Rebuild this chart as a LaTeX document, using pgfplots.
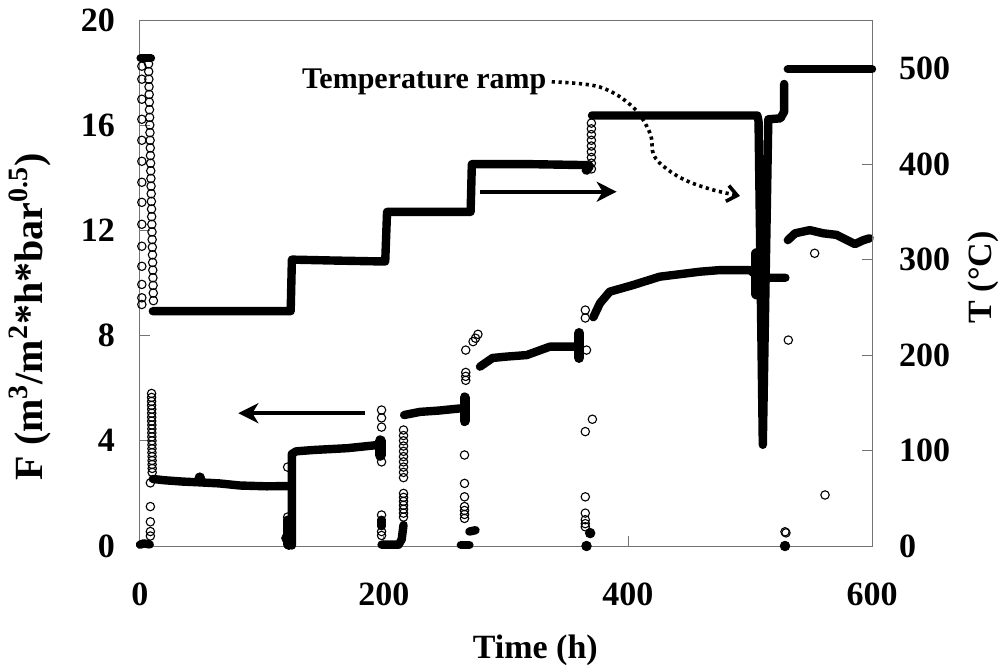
\documentclass[border=0pt]{standalone}
\usepackage{pgfplots}
\pgfplotsset{compat=1.18}
\usepackage{fontspec}
\setmainfont{Liberation Serif}
\usetikzlibrary{arrows.meta}
\begin{document}
\begin{tikzpicture}[font=\bfseries]
\pgfplotsset{
 every axis/.append style={
   scale only axis, width=366pt, height=263pt,
   xmin=0, xmax=600, clip=false,
   axis line style={black!55, line width=0.5pt},
   major tick style={black!55, line width=0.5pt},
   major tick length=5pt, tick align=inside,
   tick label style={font=\fontsize{17}{20}\selectfont\bfseries},
   /pgf/number format/assume math mode=true,
 },
 thk/.style={black, line width=4.2pt, line cap=round, line join=round, mark=none},
 circ/.style={only marks, mark=o, mark size=2.1pt, mark options={black, line width=0.55pt}},
 blob/.style={only marks, mark=*, mark size=2.4pt, mark options={black}},
}
% ---------------- left axis: F ----------------
\begin{axis}[
 ymin=0, ymax=20, ytick={0,4,...,20}, xtick={0,200,400,600},
 xtick pos=bottom, ytick pos=left,
 xticklabel style={yshift=-15pt},
 yticklabel style={xshift=-9pt},
 xlabel={Time (h)},
 xlabel style={at={(axis description cs:0.54,-0.198)}, anchor=center, font=\fontsize{17}{20}\selectfont\bfseries},
 ylabel={F (m\textsuperscript{3}/m\textsuperscript{2}*h*bar\textsuperscript{0.5})},
 ylabel style={at={(axis description cs:-0.150,0.436)}, anchor=center, font=\fontsize{20}{24}\selectfont\bfseries},
]
\coordinate (SW) at (rel axis cs:0,0);
\coordinate (NE) at (rel axis cs:1,1);
% thick (dense) parts of flux
\addplot[thk] coordinates {(0,0.05)(3,0.1)(8,0.06)};
\addplot[thk] coordinates {(10.5,2.55)(20,2.5)(35,2.45)(49,2.42)(65,2.38)(82,2.3)(104,2.27)(122,2.28)};
\addplot[thk] coordinates {(121,0.05)(121,1.0)};
\addplot[thk] coordinates {(124.5,0.02)(124.5,3.5)(128,3.6)(142,3.65)(170,3.72)(197,3.85)};
\addplot[thk, line width=5.5pt] coordinates {(197,3.45)(197,4.0)};
\addplot[thk] coordinates {(198,0.05)(212,0.05)(214.5,0.25)(216,0.8)};
\addplot[thk] coordinates {(216.5,4.98)(229.5,5.1)(245,5.15)(262,5.23)};
\addplot[thk, line width=5pt] coordinates {(266,4.75)(266,5.65)};
\addplot[thk] coordinates {(198,0.75)(198,1.0)};
\addplot[thk] coordinates {(263,0.04)(270,0.04)};
\addplot[thk] coordinates {(270,0.55)(275,0.6)};
\addplot[thk] coordinates {(278.7,6.82)(289,7.15)(300,7.2)(317,7.26)(336,7.58)(359,7.58)};
\addplot[thk, line width=5pt] coordinates {(360,7.15)(360,8.1)};
\addplot[thk] coordinates {(371.6,8.7)(377,9.23)(385,9.67)(404,9.92)(426,10.24)(459,10.43)(475,10.49)(500,10.49)(505,10.3)(512,10.2)(529,10.2)};
\addplot[thk, line width=6pt] coordinates {(505.5,9.6)(505.5,11.1)};
\addplot[thk] coordinates {(531,11.63)(537,11.89)(549,12.01)(560,11.89)(571,11.83)(579.5,11.63)(586,11.48)(593,11.63)(598,11.7)};
% scattered flux points (open circles)
\addplot[circ] coordinates {
 (9.5,5.8)(9.5,5.65)(9.5,5.5)(9.5,5.35)(9.6,5.2)(9.6,5.05)(9.6,4.9)(9.6,4.75)(9.7,4.6)(9.7,4.45)(9.7,4.3)
 (9.7,4.15)(9.8,4.0)(9.8,3.85)(9.8,3.7)(9.8,3.55)(9.9,3.4)(9.9,3.25)(9.9,3.1)(10,2.95)(10,2.8)
 (8.5,2.4)(8.5,1.5)(8.5,0.92)(8.5,0.55)(8.5,0.38)
 (121,3.0)(121,1.1)
 (198,5.17)(198,4.87)(198,4.52)(198,3.2)(198,1.18)(198,0.55)(198,0.4)
 (216,4.41)(216,4.2)(216,4.0)(216,3.8)(216,3.6)(216,3.4)(216,3.2)(216,3.0)(216,2.8)(216,2.6)
 (216,2.0)(216,1.85)(216,1.7)(216,1.55)(216,1.4)(216,1.25)(216,1.1)
 (267,7.45)(267,6.6)(267,6.45)(267,6.3)(273,7.77)(275,7.9)(277,8.05)
 (266,3.46)(266,2.38)(266,1.87)(266,1.5)(266,1.35)(266,1.2)(266,1.05)
 (365,8.97)(365,8.67)(366,7.45)(365,4.35)(370.8,4.82)(365,1.87)(365,1.25)(365,1.0)(365,0.85)(365,0.73)
 (531.4,7.83)(553,11.13)(561.5,1.94)(528.7,0.54)(529.5,0.5)
};
\addplot[blob] coordinates {(49,2.6)(120,0.3)(122,0.05)(366,0.0)(369,0.49)(528.7,0.0)};
% annotations
\node[font=\fontsize{15}{18}\selectfont\bfseries] at (axis cs:233,17.66) {Temperature ramp};
\draw[line width=2pt, -{Stealth[length=10pt,width=10pt,inset=3pt]}] (axis cs:278.7,13.47) -- (axis cs:390.7,13.47);
\draw[line width=2pt, -{Stealth[length=10pt,width=10pt,inset=3pt]}] (axis cs:184.4,5.05) -- (axis cs:80.6,5.05);
\draw[line width=1.8pt, dash pattern=on 1.6pt off 1.8pt, -{Straight Barb[length=5pt,width=8pt]}]
  plot[smooth, tension=0.6] coordinates {(axis cs:337.5,17.65)(axis cs:377,17.45)(axis cs:404,16.69)(axis cs:418,15.7)(axis cs:421,14.87)(axis cs:432,14.33)(axis cs:448.4,13.88)(axis cs:469.7,13.54)(axis cs:491.8,13.31)};
\end{axis}
% ---------------- right axis: T ----------------
\begin{axis}[
 ymin=0, ymax=551, ytick={0,100,...,500},
 axis y line*=right, axis x line=none, ytick pos=right,
 yticklabel style={xshift=10pt},
 ylabel={T (°C)},
 ylabel style={at={(axis description cs:1.152,0.511)}, anchor=center, font=\fontsize{17}{20}\selectfont\bfseries},
]
\addplot[thk] coordinates {(0.5,511)(9,511)};
\addplot[thk] coordinates {(10.5,246)(60,246)(123.5,246)(124.5,300)(160,299)(201,298)(202.5,350)(240,350)(271,350)(272,400)(320,400)(366,399)};
\addplot[thk, line width=5pt] coordinates {(366,394)(368,398)};
\addplot[thk] coordinates {(370.5,451)(420,451)(506,451)(507,445)(510.5,106)(515,447)(525,448)(528,455)(528,484)};
\addplot[thk] coordinates {(531,499.5)(600,499.5)};
\addplot[circ] coordinates {
 (1.5,502.6)(1.5,489)(1.5,468)(1.5,447)(1.5,425)(1.5,403)(1.5,381)(1.5,360)(1.5,337)(1.5,314)(1.5,293)(1.5,274)(1.5,260)(1.5,253)
 (7.0,505)(7.13,497)(7.26,489)(7.39,481)(7.52,473)(7.65,465)(7.77,457)(7.90,449)(8.03,441)(8.16,433)(8.29,425)
 (8.42,417)(8.55,409)(8.68,401)(8.81,393)(8.94,385)(9.06,377)(9.19,369)(9.32,361)(9.45,353)(9.58,345)(9.71,337)
 (9.84,329)(9.97,321)(10.1,313)(10.23,305)(10.35,297)(10.48,289)(10.61,281)(10.74,273)(10.87,265)(11.0,257)
 (370,395)(370,401)(370,407)(370,413)(370,419)(370,425)(370,431)(370,437)(370,443)
};
\end{axis}
\pgfresetboundingbox
\path[use as bounding box] ([xshift=-70pt,yshift=-62pt]SW) rectangle ([xshift=68pt,yshift=10pt]NE);
\end{tikzpicture}
\end{document}
